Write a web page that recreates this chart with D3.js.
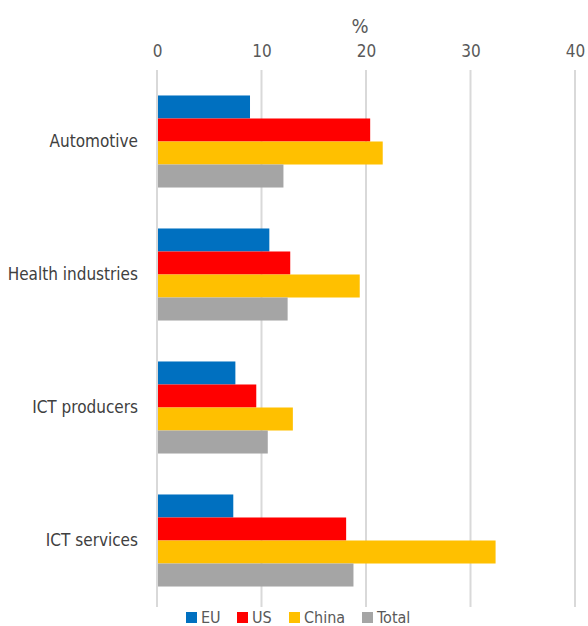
<!DOCTYPE html>
<html>
<head>
<meta charset="utf-8">
<script src="https://cdn.jsdelivr.net/npm/d3@7"></script>
<style>
  body { margin: 0; background: #fff; }
  text { font-family: "DejaVu Sans Condensed", "Liberation Sans Narrow", sans-serif; }
</style>
</head>
<body>
<div id="chart"></div>
<script>
// data (share, %)
const sectors = ["Automotive", "Health industries", "ICT producers", "ICT services"];
const regions = ["EU", "US", "China", "Total"];
const euValues = [8.9, 10.75, 7.5, 7.3];
const usValues = [20.4, 12.75, 9.5, 18.1];
const chinaValues = [21.6, 19.4, 13.0, 32.4];
const totalValues = [12.1, 12.5, 10.6, 18.8];
const xTicks = [0, 10, 20, 30, 40];
const colors = ["#0070C0", "#FF0000", "#FFC000", "#A5A5A5"];

const series = [euValues, usValues, chinaValues, totalValues];
const data = sectors.map((s, i) => ({
    sector: s,
    values: regions.map((r, j) => ({ region: r, value: series[j][i] }))
}));

var margin = { top: 75, right: 12, bottom: 18, left: 157 },
    width = 588 - margin.left - margin.right,
    height = 626 - margin.top - margin.bottom;

var svg = d3.select("#chart")
    .append("svg")
    .attr("width", 588)
    .attr("height", 626)
    .append("g")
    .attr("transform", "translate(" + margin.left + "," + margin.top + ")");

var x = d3.scaleLinear()
    .domain([0, 40])
    .range([0, 418]);

var y = d3.scaleBand()
    .domain(sectors)
    .range([0, 532])
    .paddingInner(0.308)
    .paddingOuter(0.154);

var yInner = d3.scaleBand()
    .domain(regions)
    .range([0, y.bandwidth()]);

// grid lines
svg.append("g")
    .selectAll("line")
    .data(xTicks)
    .enter()
    .append("line")
    .attr("x1", d => x(d))
    .attr("x2", d => x(d))
    .attr("y1", -5)
    .attr("y2", 532)
    .attr("stroke", "#D9D9D9")
    .attr("stroke-width", 2);

// top axis labels
var xAxis = svg.append("g")
    .attr("transform", "translate(0,-18)")
    .call(d3.axisTop(x).tickValues(xTicks).tickSize(0).tickPadding(0));
xAxis.select(".domain").remove();
xAxis.selectAll("text")
    .attr("font-size", 17)
    .attr("fill", "#595959");

svg.append("text")
    .attr("x", x(20) - 6)
    .attr("y", -42)
    .attr("text-anchor", "middle")
    .attr("font-size", 20)
    .attr("fill", "#595959")
    .text("%");

// category labels
var yAxis = svg.append("g")
    .attr("transform", "translate(-19,0)")
    .call(d3.axisLeft(y).tickSize(0).tickPadding(0));
yAxis.select(".domain").remove();
yAxis.selectAll("text")
    .attr("font-size", 17)
    .attr("fill", "#404040");

// bars
var groups = svg.selectAll(".group")
    .data(data)
    .enter()
    .append("g")
    .attr("class", "group")
    .attr("transform", d => "translate(0," + y(d.sector) + ")");

groups.selectAll("rect")
    .data(d => d.values)
    .enter()
    .append("rect")
    .attr("x", x(0) + 1)
    .attr("y", d => yInner(d.region))
    .attr("width", d => x(d.value) - x(0) - 1)
    .attr("height", yInner.bandwidth())
    .attr("fill", (d, i) => colors[i]);

// legend
var legendX = [186, 237, 289, 362];
var legend = d3.select("svg").append("g");
var items = legend.selectAll("g")
    .data(regions)
    .enter()
    .append("g")
    .attr("transform", (d, i) => "translate(" + legendX[i] + ",611)");
items.append("rect")
    .attr("width", 11)
    .attr("height", 11)
    .attr("y", 1)
    .attr("fill", (d, i) => colors[i]);
items.append("text")
    .attr("x", 15)
    .attr("y", 12)
    .attr("font-size", 16)
    .attr("fill", "#595959")
    .text(d => d);
</script>
</body>
</html>
